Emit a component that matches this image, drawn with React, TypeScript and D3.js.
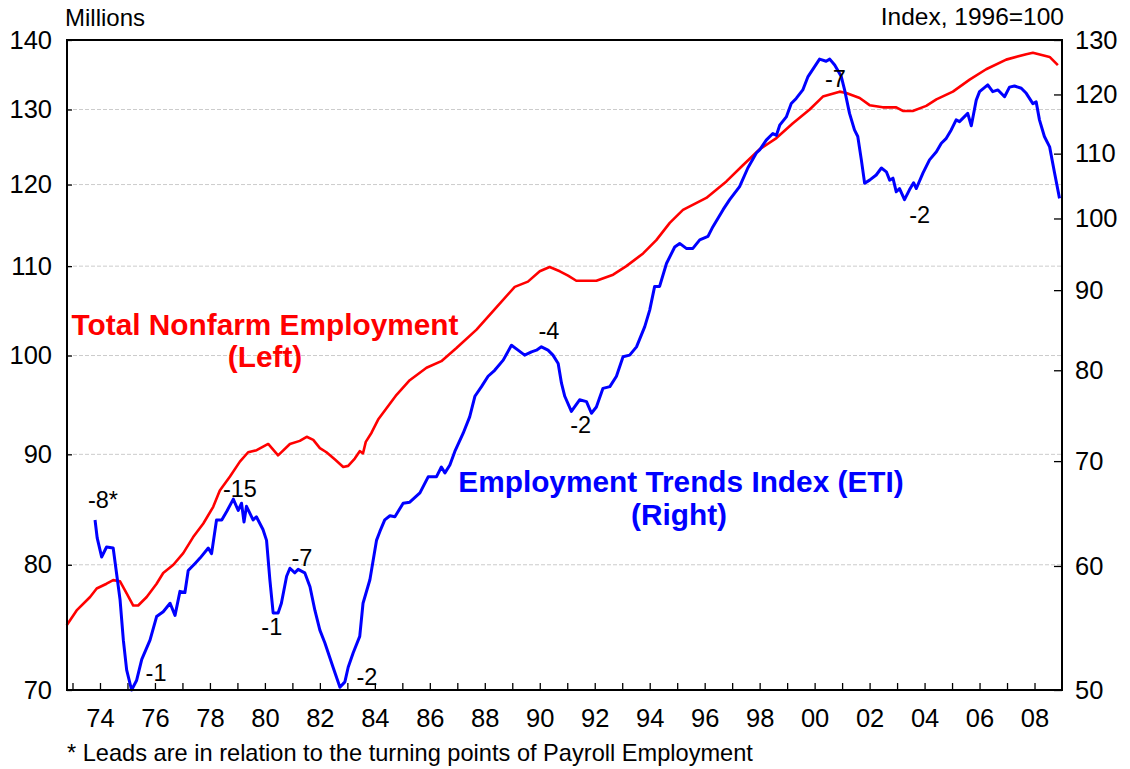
import React, { useRef, useEffect } from "react";
import * as d3 from "d3";

// [decimal year, millions]
const payroll: [number, number][] = [
  [1972.79, 75.0], [1973.15, 76.2], [1973.64, 77.3], [1973.88, 78.0], [1974.24, 78.4],
  [1974.48, 78.7], [1974.73, 78.6], [1974.97, 77.6], [1975.21, 76.6], [1975.39, 76.6],
  [1975.7, 77.3], [1976.06, 78.4], [1976.3, 79.3], [1976.67, 80.0], [1977.03, 81.0],
  [1977.39, 82.4], [1977.76, 83.6], [1978.12, 85.1], [1978.36, 86.6], [1978.73, 87.9],
  [1979.09, 89.3], [1979.39, 90.2], [1979.7, 90.4], [1980.12, 91.0], [1980.48, 89.9],
  [1980.91, 91.0], [1981.27, 91.3], [1981.52, 91.7], [1981.76, 91.4], [1982.0, 90.6],
  [1982.24, 90.2], [1982.55, 89.5], [1982.85, 88.8], [1983.03, 88.9], [1983.27, 89.6],
  [1983.45, 90.3], [1983.57, 90.1], [1983.67, 91.2], [1983.88, 92.1], [1984.12, 93.4],
  [1984.79, 95.9], [1985.27, 97.4], [1985.88, 98.7], [1986.42, 99.4], [1986.97, 100.8],
  [1987.7, 102.8], [1988.43, 105.3], [1989.09, 107.6], [1989.57, 108.2], [1990.0, 109.4],
  [1990.36, 109.9], [1990.73, 109.4], [1991.03, 108.9], [1991.33, 108.3], [1992.06, 108.3],
  [1992.67, 109.0], [1993.15, 110.0], [1993.76, 111.5], [1994.24, 113.1], [1994.73, 115.2],
  [1995.21, 116.8], [1996.06, 118.3], [1996.79, 120.4], [1997.39, 122.5], [1998.0, 124.6],
  [1998.61, 126.1], [1999.21, 128.1], [1999.82, 130.0], [2000.3, 131.8], [2000.91, 132.5],
  [2001.15, 132.3], [2001.64, 131.6], [2002.0, 130.6], [2002.48, 130.3], [2002.97, 130.3],
  [2003.21, 129.8], [2003.57, 129.8], [2004.06, 130.5], [2004.43, 131.4], [2005.03, 132.5],
  [2005.64, 134.2], [2006.24, 135.7], [2006.97, 137.1], [2007.7, 137.9], [2007.94, 138.1],
  [2008.55, 137.5], [2008.85, 136.3],
];

// [decimal year, index 1996=100]
const eti: [number, number][] = [
  [1973.82, 64.2], [1973.9, 62.5], [1974.06, 60.8], [1974.24, 61.7], [1974.48, 61.6],
  [1974.6, 59.4], [1974.73, 57.1], [1974.85, 53.8], [1974.97, 51.5], [1975.15, 50.0],
  [1975.33, 50.7], [1975.52, 52.3], [1975.82, 53.8], [1976.06, 55.7], [1976.3, 56.1],
  [1976.55, 56.8], [1976.73, 55.8], [1976.91, 57.8], [1977.09, 57.7], [1977.21, 59.6],
  [1977.45, 60.2], [1977.64, 60.7], [1977.94, 61.6], [1978.06, 61.1], [1978.24, 64.2],
  [1978.43, 64.2], [1978.61, 65.0], [1978.85, 66.2], [1979.03, 65.1], [1979.15, 65.8],
  [1979.24, 64.0], [1979.33, 65.5], [1979.57, 64.2], [1979.69, 64.5], [1979.93, 63.3],
  [1980.06, 62.3], [1980.18, 58.8], [1980.3, 56.0], [1980.48, 56.0], [1980.6, 56.8],
  [1980.79, 59.1], [1980.91, 59.8], [1981.09, 59.4], [1981.21, 59.7], [1981.45, 59.4],
  [1981.64, 58.2], [1981.82, 56.2], [1982.0, 54.6], [1982.18, 53.6], [1982.48, 51.7],
  [1982.73, 50.2], [1982.91, 50.6], [1983.03, 51.7], [1983.21, 52.8], [1983.45, 54.1],
  [1983.57, 56.8], [1983.82, 58.8], [1984.06, 62.3], [1984.18, 63.1], [1984.36, 64.2],
  [1984.55, 64.6], [1984.73, 64.5], [1985.03, 65.8], [1985.27, 65.9], [1985.64, 66.8],
  [1985.94, 68.4], [1986.24, 68.4], [1986.42, 69.4], [1986.55, 68.8], [1986.73, 69.6],
  [1986.91, 71.0], [1987.21, 72.9], [1987.45, 74.7], [1987.64, 77.0], [1987.88, 78.1],
  [1988.12, 79.3], [1988.36, 80.0], [1988.67, 81.2], [1988.97, 83.0], [1989.21, 82.4],
  [1989.45, 81.8], [1989.7, 82.2], [1989.88, 82.4], [1990.06, 82.8], [1990.3, 82.4],
  [1990.48, 81.8], [1990.67, 80.8], [1990.79, 78.5], [1990.91, 77.0], [1991.15, 75.3],
  [1991.45, 76.6], [1991.7, 76.4], [1991.88, 75.1], [1992.06, 75.8], [1992.3, 77.9],
  [1992.55, 78.1], [1992.79, 79.3], [1993.03, 81.6], [1993.27, 81.8], [1993.52, 82.8],
  [1993.82, 85.3], [1994.0, 87.4], [1994.18, 90.5], [1994.36, 90.5], [1994.61, 93.6],
  [1994.91, 95.9], [1995.09, 96.4], [1995.33, 95.7], [1995.57, 95.7], [1995.82, 96.9],
  [1996.12, 97.4], [1996.3, 98.8], [1996.67, 101.3], [1996.91, 102.8], [1997.27, 104.8],
  [1997.57, 107.7], [1997.88, 110.1], [1998.0, 110.6], [1998.24, 112.2], [1998.48, 113.3],
  [1998.61, 113.0], [1998.73, 114.7], [1998.97, 116.1], [1999.15, 118.4], [1999.33, 119.3],
  [1999.57, 120.8], [1999.76, 123.2], [2000.0, 125.0], [2000.18, 126.4], [2000.42, 126.0],
  [2000.55, 126.4], [2000.73, 125.3], [2000.97, 123.2], [2001.09, 120.8], [2001.27, 116.7],
  [2001.45, 113.9], [2001.57, 112.8], [2001.7, 109.0], [2001.82, 105.3], [2002.0, 105.8],
  [2002.24, 106.6], [2002.43, 107.7], [2002.61, 107.1], [2002.73, 105.8], [2002.85, 106.1],
  [2002.97, 104.0], [2003.09, 104.5], [2003.27, 102.8], [2003.45, 104.3], [2003.6, 105.4],
  [2003.7, 104.5], [2003.94, 106.9], [2004.18, 109.0], [2004.43, 110.3], [2004.61, 111.7],
  [2004.79, 112.5], [2004.97, 113.9], [2005.15, 115.6], [2005.27, 115.3], [2005.57, 116.7],
  [2005.7, 114.6], [2005.88, 119.0], [2006.0, 120.5], [2006.3, 121.7], [2006.48, 120.5],
  [2006.67, 120.8], [2006.91, 119.6], [2007.09, 121.3], [2007.27, 121.5], [2007.52, 121.1],
  [2007.7, 120.2], [2007.94, 118.4], [2008.06, 118.7], [2008.18, 115.6], [2008.36, 112.8],
  [2008.55, 111.1], [2008.73, 106.9], [2008.91, 103.0],
];

// lead annotations, placed on the right (ETI) axis
const leads: { text: string; year: number; value: number }[] = [
  { text: "-8*", year: 1974.11, value: 65.3 },
  { text: "-1", year: 1976.04, value: 50.7 },
  { text: "-15", year: 1979.09, value: 66.4 },
  { text: "-1", year: 1980.25, value: 54.2 },
  { text: "-7", year: 1981.35, value: 60.0 },
  { text: "-2", year: 1983.71, value: 50.4 },
  { text: "-4", year: 1990.33, value: 83.8 },
  { text: "-2", year: 1991.49, value: 72.9 },
  { text: "-7", year: 2000.76, value: 121.3 },
  { text: "-2", year: 2003.82, value: 99.3 },
];

const leftTicks = [70, 80, 90, 100, 110, 120, 130, 140];
const rightTicks = [50, 60, 70, 80, 90, 100, 110, 120, 130];
const years = d3.range(1973, 2009);

const EtiChart: React.FC = () => {
  const ref = useRef<SVGSVGElement | null>(null);

  useEffect(() => {
    const svg = d3.select(ref.current);
    svg.selectAll("*").remove();

    const W = 1130;
    const H = 769;
    const margin = { top: 40, right: 68, bottom: 79, left: 67 };
    const width = W - margin.left - margin.right;
    const height = H - margin.top - margin.bottom;
    const font = "'Liberation Sans', Arial, sans-serif";

    svg.attr("width", W).attr("height", H).style("font-family", font);

    const x = d3.scaleLinear().domain([1972.8, 2009.0]).range([0, width]);
    const yL = d3.scaleLog().domain([70, 140]).range([height, 0]);
    const yR = d3.scaleLog().domain([50, 130]).range([height, 0]);

    const g = svg
      .append("g")
      .attr("transform", `translate(${margin.left},${margin.top})`);

    // gridlines from the left axis
    g.append("g")
      .selectAll("line")
      .data(leftTicks.filter((t) => t > 70 && t < 140))
      .join("line")
      .attr("x1", 0)
      .attr("x2", width)
      .attr("y1", (d) => yL(d))
      .attr("y2", (d) => yL(d))
      .attr("stroke", "#cccccc")
      .attr("stroke-width", 1)
      .attr("stroke-dasharray", "4,2");

    // axes
    const bottom = g
      .append("g")
      .attr("transform", `translate(0,${height})`)
      .call(
        d3
          .axisBottom(x)
          .tickValues(years)
          .tickSize(-7)
          .tickPadding(19)
          .tickFormat((d) =>
            (d as number) % 2 === 0 ? String(d).slice(2) : ""
          )
      );

    const left = g.append("g").call(
      d3
        .axisLeft(yL)
        .tickValues(leftTicks)
        .tickSize(-5)
        .tickPadding(15)
        .tickFormat((d) => String(d))
    );

    const right = g
      .append("g")
      .attr("transform", `translate(${width},0)`)
      .call(
        d3
          .axisRight(yR)
          .tickValues(rightTicks)
          .tickSize(-8)
          .tickPadding(13)
          .tickFormat((d) => String(d))
      );

    [bottom, left, right].forEach((a) => {
      a.select(".domain").remove();
      a.selectAll("line").attr("stroke", "#000").attr("stroke-width", 1.3);
      a.selectAll("text")
        .attr("fill", "#000")
        .style("font-size", "25.5px")
        .style("font-family", font);
    });

    // series
    const line = d3
      .line<[number, number]>()
      .x((d) => x(d[0]));

    g.append("path")
      .datum(payroll)
      .attr("fill", "none")
      .attr("stroke", "#ff0000")
      .attr("stroke-width", 2.6)
      .attr("stroke-linejoin", "round")
      .attr("d", line.y((d) => yL(d[1])));

    g.append("path")
      .datum(eti)
      .attr("fill", "none")
      .attr("stroke", "#0000ff")
      .attr("stroke-width", 3)
      .attr("stroke-linejoin", "round")
      .attr("d", line.y((d) => yR(d[1])));

    // frame
    g.append("rect")
      .attr("x", 0)
      .attr("y", 0)
      .attr("width", width)
      .attr("height", height)
      .attr("fill", "none")
      .attr("stroke", "#000")
      .attr("stroke-width", 2);

    // lead labels
    g.append("g")
      .selectAll("text")
      .data(leads)
      .join("text")
      .attr("x", (d) => x(d.year))
      .attr("y", (d) => yR(d.value))
      .attr("text-anchor", "middle")
      .attr("fill", "#000")
      .style("font-size", "23.5px")
      .text((d) => d.text);

    // series labels
    const label = (txt: string, cx: number, cy: number, color: string) =>
      svg
        .append("text")
        .attr("x", cx)
        .attr("y", cy)
        .attr("text-anchor", "middle")
        .attr("fill", color)
        .style("font-size", "29.8px")
        .style("font-weight", "bold")
        .text(txt);

    label("Total Nonfarm Employment", 265, 335, "#ff0000");
    label("(Left)", 265, 367, "#ff0000");
    label("Employment Trends Index (ETI)", 681, 492, "#0000ff");
    label("(Right)", 679, 525, "#0000ff");

    // axis titles and footnote
    svg
      .append("text")
      .attr("x", 65)
      .attr("y", 26)
      .style("font-size", "24px")
      .text("Millions");
    svg
      .append("text")
      .attr("x", 1064)
      .attr("y", 25)
      .attr("text-anchor", "end")
      .style("font-size", "24.5px")
      .text("Index, 1996=100");
    svg
      .append("text")
      .attr("x", 67)
      .attr("y", 761)
      .style("font-size", "23.6px")
      .text("* Leads are in relation to the turning points of Payroll Employment");
  }, []);

  return (
    <svg
      ref={ref}
      style={{ position: "absolute", left: 0, top: 0, background: "#fff" }}
    />
  );
};

export default function App() {
  return <EtiChart />;
}
